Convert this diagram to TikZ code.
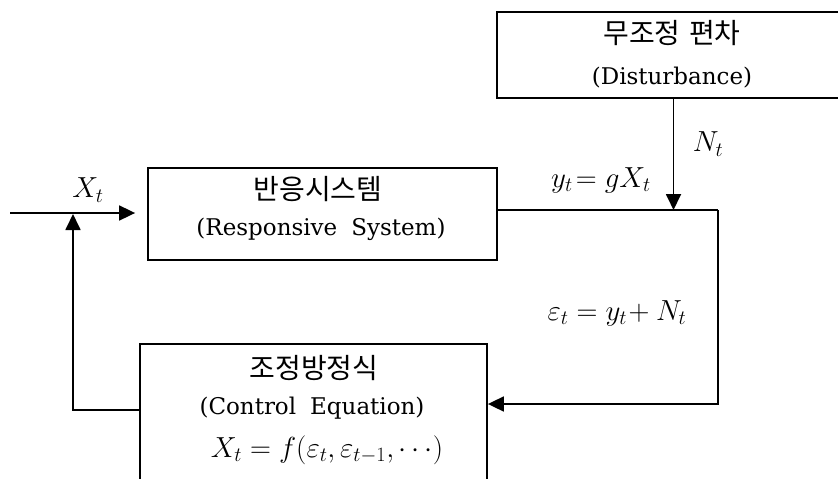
\RequirePackage{fix-cm}
\documentclass[tikz,border=0pt]{standalone}
\usepackage{fontspec}
\setmainfont{DejaVu Serif}
\newfontfamily\kor{Noto Sans CJK KR}
\usetikzlibrary{arrows.meta}
\begin{document}
\begin{tikzpicture}[x=1pt,y=-1pt,
  box/.style={draw, line width=1.8pt, inner sep=0pt},
  kr/.style={inner sep=0pt, font=\kor\fontsize{28}{30}\selectfont},
  en/.style={inner sep=0pt, font=\fontsize{23}{26}\selectfont},
  mt/.style={inner sep=0pt, font=\fontsize{29}{32}\selectfont},
  arr/.style={line width=1.8pt, -{Triangle[length=16pt,width=15pt]}},
  ln/.style={line width=1.8pt}]
\useasboundingbox (0,0) rectangle (838,479);
\clip (0,0) rectangle (838,479);
% boxes
\node[box, minimum width=353pt, minimum height=86pt] (dist) at (673.5,55) {};
\node[box, minimum width=349pt, minimum height=92pt] (resp) at (322.5,214) {};
\node[box, minimum width=347pt, minimum height=151pt] (ctrl) at (313.5,419.5) {};
% texts
\node[kr] (t1) at (672,33) {무조정\hspace{0.3em}편차};
\node[en] (t2) at (672,78) {(Disturbance)};
\node[kr] (t3) at (318,189) {반응시스템};
\node[en] (t4) at (321,229) {(Responsive\hspace{14pt}System)};
\node[kr] (t5) at (314,368) {조정방정식};
\node[en] (t6) at (312,408) {(Control\hspace{14pt}Equation)};
\node[mt] (t7) at (327,450) {$X_t = f(\varepsilon_t, \varepsilon_{t-1}, \cdots)$};
\node[mt] (lx) at (88,190) {$X_t$};
\node[mt] (ln) at (708,144) {$N_t$};
\node[mt] (ly) at (601,180) {$y_t\!= gX_t$};
\node[mt] (le) at (617,313) {$\varepsilon_t = y_t\!+N_t$};
% coordinates
\coordinate (in) at (10,213);
\coordinate (fbL) at (73,410);
\coordinate (fbT) at (73,214);
\coordinate (cr) at (718,210);
\coordinate (cb) at (718,404);
% connectors
\draw[arr, shorten >=12pt] (in) -- (resp.west |- in);
\draw[arr] (ctrl.west |- fbL) -- (fbL) -- (fbT);
\draw[ln] (resp.east |- cr) -- (cr);
\draw[arr] (cr) -- (cb) -- (ctrl.east |- cb);
\draw[arr] (dist.south) -- (dist.south |- cr);
\end{tikzpicture}
\end{document}
